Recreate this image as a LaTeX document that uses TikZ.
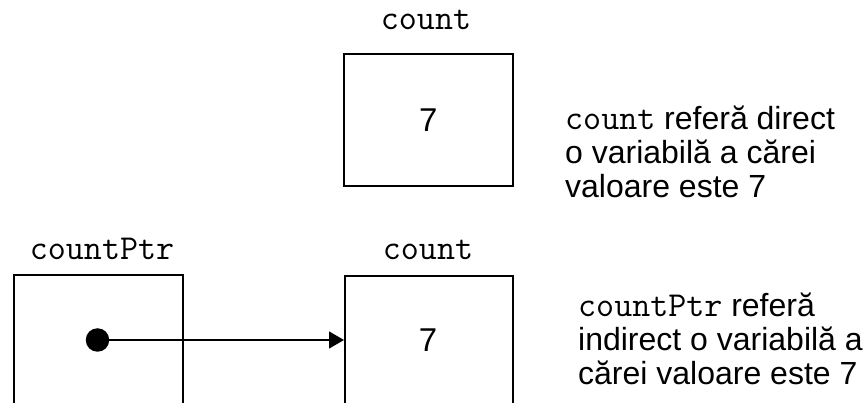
\documentclass[tikz,border=0pt]{standalone}
\usepackage{fontspec}
\setmainfont{Liberation Sans}
\usetikzlibrary{arrows.meta}
\newcommand{\cour}{\fontsize{35}{34}\selectfont\ttfamily}
\begin{document}
\begin{tikzpicture}[x=1pt,y=-1pt,
  box/.style={draw, line width=1.6pt, inner sep=0pt},
  mono/.style={font=\cour, inner sep=0pt},
  sans/.style={font=\fontsize{33}{34}\selectfont, inner sep=0pt},
  desc/.style={font=\fontsize{32}{34}\selectfont, align=left, anchor=west, inner sep=0pt},
  ptr/.style={line width=1.3pt, -{Triangle[length=15pt,width=17pt]}}]
\useasboundingbox (0,0) rectangle (865,403);
% top
\node[box, minimum width=169pt, minimum height=132pt, anchor=north west] (c1) at (343,53) {};
\node[sans] (v1) at (c1.center) {7};
\node[mono, anchor=base] (l1) at (426,30) {count};
\node[desc] (d1) at (565,152) {{\cour count} referă direct\\o variabilă a cărei\\valoare este 7};
% bottom
\node[box, minimum width=169pt, minimum height=140pt, anchor=north west] (p) at (13,274) {};
\node[box, minimum width=168pt, minimum height=140pt, anchor=north west] (c2) at (344,275) {};
\node[mono, anchor=base] (l2) at (102,260) {countPtr};
\node[mono, anchor=base] (l3) at (428,260) {count};
\node[sans] (v2) at (428,340) {7};
\node[circle, fill, minimum size=23.5pt, inner sep=0pt] (dot) at (97.5,340) {};
\draw[ptr] (dot.center) -- (dot.center -| c2.west);
\node[desc] (d2) at (578,339) {{\cour countPtr} referă\\indirect o variabilă a\\cărei valoare este 7};
\end{tikzpicture}
\end{document}
